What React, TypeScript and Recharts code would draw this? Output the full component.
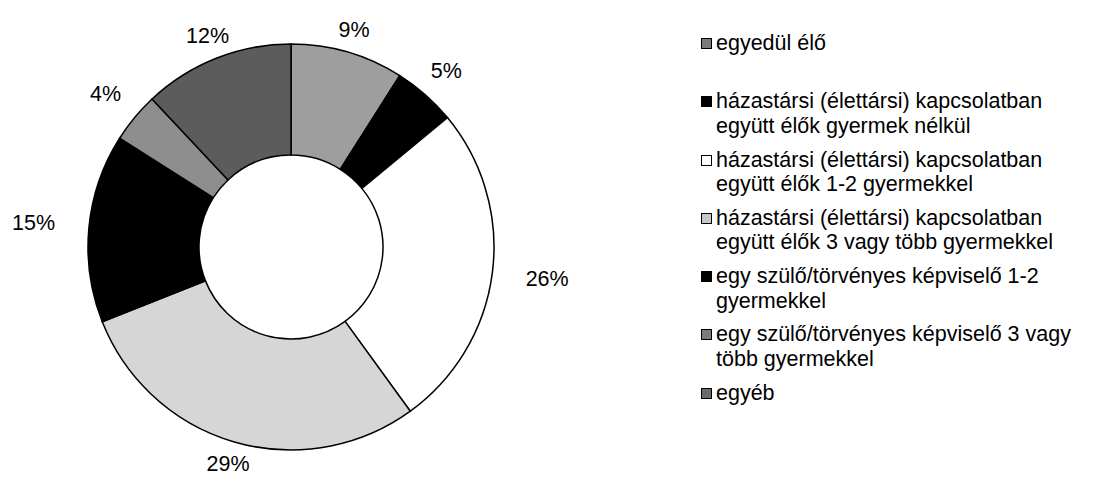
import React from "react";
import { PieChart, Pie, Cell, Legend } from "recharts";

const categories = [
  "egyedül élő",
  "házastársi (élettársi) kapcsolatban együtt élők gyermek nélkül",
  "házastársi (élettársi) kapcsolatban együtt élők 1-2 gyermekkel",
  "házastársi (élettársi) kapcsolatban együtt élők 3 vagy több gyermekkel",
  "egy szülő/törvényes képviselő 1-2 gyermekkel",
  "egy szülő/törvényes képviselő 3 vagy több gyermekkel",
  "egyéb",
];

const values = [9, 5, 26, 29, 15, 4, 12];

const legendLines = [
  ["egyedül élő"],
  ["házastársi (élettársi) kapcsolatban", "együtt élők gyermek nélkül"],
  ["házastársi (élettársi) kapcsolatban", "együtt élők 1-2 gyermekkel"],
  ["házastársi (élettársi) kapcsolatban", "együtt élők 3 vagy több gyermekkel"],
  ["egy szülő/törvényes képviselő 1-2", "gyermekkel"],
  ["egy szülő/törvényes képviselő 3 vagy", "több gyermekkel"],
  ["egyéb"],
];

const fills = ["#9e9e9e", "#000000", "#ffffff", "#d6d6d6", "#000000", "#8e8e8e", "#5c5c5c"];
const swatchFills = ["#7a7a7a", "#000000", "#ffffff", "#c8c8c8", "#000000", "#7a7a7a", "#6a6a6a"];

const data = categories.map((name, i) => ({ name, value: values[i] }));

const FONT = "'Liberation Sans', Arial, Helvetica, sans-serif";
const FS = 21.5;

const renderLabel = (props: any) => {
  const { cx, cy, midAngle, outerRadius, value } = props;
  const text = `${value}%`;
  const a = (midAngle * Math.PI) / 180;
  const c = Math.cos(a);
  const s = Math.sin(a);
  const d = outerRadius + 22 + 34 * Math.pow(Math.abs(c), 3);
  const x = cx + d * c;
  const y = cy - d * s;
  return (
    <text
      x={x}
      y={y}
      textAnchor="middle"
      dominantBaseline="central"
      fontFamily={FONT}
      fontSize={FS}
      fill="#000"
    >
      {text}
    </text>
  );
};

const renderLegend = () => (
  <div style={{ fontFamily: FONT, fontSize: FS, color: "#000" }}>
    {legendLines.map((lines, i) => (
      <div key={i} style={{ position: "relative", height: 58.3 }}>
        <div
          style={{
            position: "absolute",
            left: 0,
            top: 7,
            width: 9,
            height: 9,
            background: swatchFills[i],
            border: "1px solid #000",
          }}
        />
        <div style={{ position: "absolute", left: 15, top: 0, lineHeight: "24.5px", whiteSpace: "nowrap" }}>
          {lines.map((l, j) => (
            <div key={j}>{l}</div>
          ))}
        </div>
      </div>
    ))}
  </div>
);

export default function App() {
  return (
    <div style={{ position: "absolute", left: 0, top: 0, width: 1113, height: 499, background: "#fff" }}>
      <PieChart width={1113} height={499}>
        <Pie
          data={data}
          dataKey="value"
          nameKey="name"
          cx={286}
          cy={242}
          outerRadius={203}
          innerRadius={92}
          startAngle={90}
          endAngle={-270}
          isAnimationActive={false}
          label={renderLabel}
          labelLine={false}
          stroke="#000"
          strokeWidth={1.5}
        >
          {data.map((_, i) => (
            <Cell key={i} fill={fills[i]} stroke="#000" strokeWidth={1.5} />
          ))}
        </Pie>
        <Legend
          content={renderLegend}
          wrapperStyle={{ position: "absolute", left: 701, top: 31, width: 410, height: 460 }}
        />
      </PieChart>
    </div>
  );
}
